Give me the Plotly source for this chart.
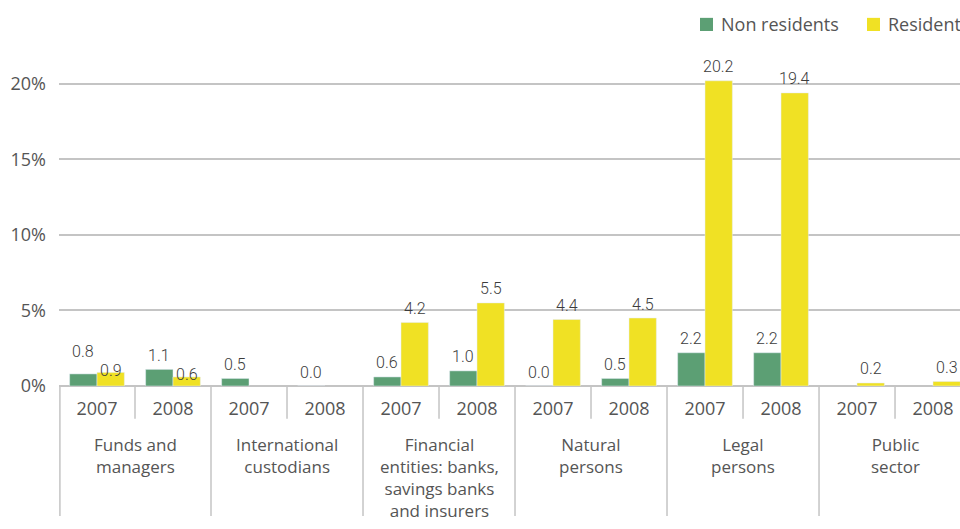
import plotly.graph_objects as go

# Holder groups and years on the horizontal axis
groups = [
    "Funds and<br>managers",
    "International<br>custodians",
    "Financial<br>entities: banks,<br>savings banks<br>and insurers",
    "Natural<br>persons",
    "Legal<br>persons",
    "Public<br>sector",
]
years = ["2007", "2008"]
series_names = ["Non residents", "Resident"]

# Share of holdings (%) per group and year
non_residents = [0.8, 1.1, 0.5, 0.0, 0.6, 1.0, 0.0, 0.5, 2.2, 2.2, None, None]
residents = [0.9, 0.6, None, None, 4.2, 5.5, 4.4, 4.5, 20.2, 19.4, 0.2, 0.3]

y_ticks = [0, 5, 10, 15, 20]

GREEN = "#5c9f74"
YELLOW = "#f0e124"
TEXT = "#555555"
LINE = "#c4c4c4"
FONT = "Open Sans"
VALUE_FONT = dict(family="Roboto", size=16, weight=300, color="#3c3c3c")

BARGAP = 0.28
HALF = (1 - BARGAP) / 4          # offset of each bar centre from its column centre
LABEL_SHIFT = 14                 # px between bar top and value label centre
# a few labels in the first group sit at a different height
label_shift_override = {(0, 0): 22, (1, 0): 2, (1, 1): 2}

n_cols = len(groups) * len(years)
xpos = list(range(n_cols))
year_labels = [years[i % len(years)] for i in xpos]

fig = go.Figure()
for name, vals, col in [(series_names[0], non_residents, GREEN),
                        (series_names[1], residents, YELLOW)]:
    fig.add_trace(go.Bar(name=name, x=xpos, y=vals, marker_color=col,
                         showlegend=False))

annotations = []
# value labels above the bars
for s, (vals, dx) in enumerate([(non_residents, -HALF), (residents, HALF)]):
    for i, v in enumerate(vals):
        if v is None:
            continue
        annotations.append(dict(
            x=i + dx, y=v, xref="x", yref="y", text=f"{v:.1f}",
            showarrow=False, xanchor="center", yanchor="middle",
            yshift=label_shift_override.get((s, i), LABEL_SHIFT),
            font=VALUE_FONT,
        ))

# group names below the year labels
for i, name in enumerate(groups):
    annotations.append(dict(
        x=2 * i + 0.5, y=0, xref="x", yref="y", yshift=-45,
        text=name, showarrow=False, xanchor="center", yanchor="top",
        font=dict(family=FONT, size=17, color=TEXT),
    ))

shapes = []
# short dividers between the two years of a group
for i in range(len(groups)):
    shapes.append(dict(type="line", xref="x", yref="paper",
                       x0=2 * i + 0.5, x1=2 * i + 0.5, y0=0, y1=-0.095,
                       line=dict(color=LINE, width=1.5)))
# long dividers between groups
for i in range(len(groups)):
    xd = 2 * i - 0.5 + (0.012 if i == 0 else 0)
    shapes.append(dict(type="line", xref="x", yref="paper",
                       x0=xd, x1=xd, y0=0, y1=-0.376,
                       line=dict(color=LINE, width=1.5)))

# legend drawn in paper coordinates
PLOT_W = 901.0
def px(p):
    return (p - 59) / PLOT_W

legend_items = [(series_names[0], GREEN, 700), (series_names[1], YELLOW, 867)]
for name, col, left in legend_items:
    shapes.append(dict(type="rect", xref="paper", yref="paper",
                       x0=px(left), x1=px(left + 13), y0=1.026, y1=1.064,
                       fillcolor=col, line=dict(width=0)))
    annotations.append(dict(x=px(left + 19), y=1.045, xref="paper", yref="paper",
                            text=name, showarrow=False, xanchor="left", yanchor="middle",
                            font=dict(family=FONT, size=18, color=TEXT)))

fig.update_layout(
    width=960, height=529,
    margin=dict(l=59, r=0, t=40, b=143),
    paper_bgcolor="white", plot_bgcolor="white",
    barmode="group", bargap=BARGAP, bargroupgap=0,
    font=dict(family=FONT, size=18, color=TEXT),
    showlegend=False,
    shapes=shapes,
    annotations=annotations,
    xaxis=dict(
        range=[-0.5, 11.355], tickmode="array", tickvals=xpos, ticktext=year_labels,
        showgrid=False, zeroline=False, showline=False, ticks="",
        ticklabelstandoff=10,
        tickfont=dict(family=FONT, size=18, color=TEXT),
        fixedrange=True,
    ),
    yaxis=dict(
        range=[0, 22.9], tickmode="array", tickvals=y_ticks,
        ticktext=[f"{v}%" for v in y_ticks],
        showgrid=True, gridcolor=LINE, gridwidth=1.5,
        zeroline=True, zerolinecolor=LINE, zerolinewidth=1.5,
        showline=False, ticks="", ticklabelstandoff=12,
        tickfont=dict(family=FONT, size=18, color=TEXT),
    ),
)

fig.write_html("out.html")
